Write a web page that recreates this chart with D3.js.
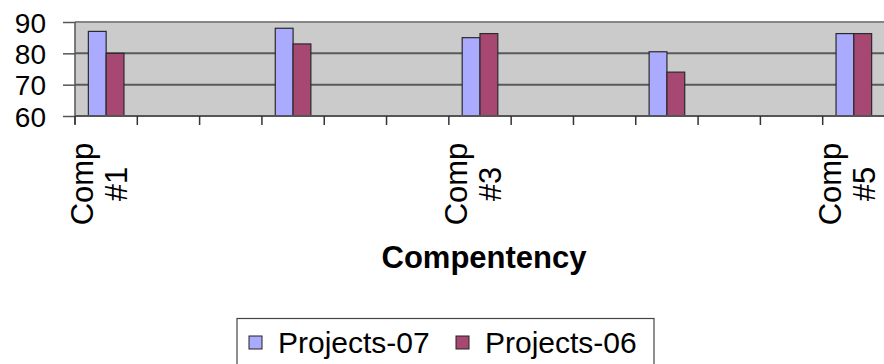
<!DOCTYPE html>
<html>
<head>
<meta charset="utf-8">
<script src="https://cdn.jsdelivr.net/npm/d3@7"></script>
<style>
  html, body { margin: 0; padding: 0; background: #fff; }
  svg { display: block; font-family: Arial, "Liberation Sans", sans-serif; }
</style>
</head>
<body>
<svg id="chart" width="884" height="364"></svg>
<script>
// Category slots on the axis (empty slots keep the spacing between competencies)
const categories = ["Comp #1", "", "", "Comp #2", "", "", "Comp #3", "", "", "Comp #4", "", "", "Comp #5"];
const seriesNames = ["Projects-07", "Projects-06"];
const projects07 = [87, null, null, 88, null, null, 85, null, null, 80.5, null, null, 86.3];
const projects06 = [80, null, null, 83, null, null, 86.3, null, null, 74, null, null, 86.3];
const yTicks = [60, 70, 80, 90];
const labelInterval = 2;          // every second category slot gets a label
const axisTitle = "Compentency";

const colors = { "Projects-07": "#aaaaff", "Projects-06": "#a74873" };
const seriesValues = { "Projects-07": projects07, "Projects-06": projects06 };

const svg = d3.select("#chart");
const plot = { left: 75, right: 885, top: 22, bottom: 116 };

const x0 = d3.scaleBand()
  .domain(d3.range(categories.length))
  .range([plot.left, plot.right])
  .padding(0);

const x1 = d3.scaleBand()
  .domain(seriesNames)
  .range([0, x0.bandwidth()])
  .paddingInner(0)
  .paddingOuter(0.75);

const y = d3.scaleLinear().domain([60, 90]).range([plot.bottom, plot.top]);

// Plot background
svg.append("rect")
  .attr("x", plot.left).attr("y", plot.top)
  .attr("width", plot.right - plot.left).attr("height", plot.bottom - plot.top)
  .attr("fill", "#cbcbcb");

// Horizontal gridlines
svg.append("g")
  .selectAll("line")
  .data(yTicks.filter(v => v > 60))
  .join("line")
  .attr("x1", plot.left).attr("x2", plot.right)
  .attr("y1", d => y(d)).attr("y2", d => y(d))
  .attr("stroke", d => d === 90 ? "#858585" : "#5a5a5a")
  .attr("stroke-width", 2);

// Bars
const rows = categories.map((c, i) => ({ i, c }));
const groups = svg.append("g")
  .selectAll("g")
  .data(rows)
  .join("g")
  .attr("transform", d => `translate(${x0(d.i)},0)`);

groups.selectAll("rect")
  .data(d => seriesNames
    .map(s => ({ s, v: seriesValues[s][d.i] }))
    .filter(e => e.v != null))
  .join("rect")
  .attr("x", e => x1(e.s))
  .attr("width", x1.bandwidth())
  .attr("y", e => y(e.v))
  .attr("height", e => y(60) - y(e.v))
  .attr("fill", e => colors[e.s])
  .attr("stroke", "#2a2a2a")
  .attr("stroke-width", 1.2);

// Y axis
const yAxis = d3.axisLeft(y)
  .tickValues(yTicks)
  .tickSize(12)
  .tickPadding(17)
  .tickFormat(d3.format("d"));

const yg = svg.append("g")
  .attr("transform", `translate(${plot.left},0)`)
  .call(yAxis);
yg.select(".domain").remove();
yg.selectAll(".tick line").attr("stroke", "#555").attr("stroke-width", 1.5);
yg.selectAll(".tick text")
  .attr("fill", "#000")
  .attr("font-size", 28)
  .attr("font-family", "Arial, 'Liberation Sans', sans-serif")
  .attr("dy", "0.36em");

// Vertical axis line (extends a little below the category axis)
svg.append("line")
  .attr("x1", plot.left).attr("x2", plot.left)
  .attr("y1", plot.top).attr("y2", plot.bottom + 8)
  .attr("stroke", "#555").attr("stroke-width", 1.5);

// Category axis line
svg.append("line")
  .attr("x1", plot.left).attr("x2", plot.right)
  .attr("y1", plot.bottom).attr("y2", plot.bottom)
  .attr("stroke", "#555").attr("stroke-width", 2);

// Category tick marks at slot boundaries
const boundaries = d3.range(categories.length + 1).map(i =>
  i < categories.length ? x0(i) : x0(categories.length - 1) + x0.bandwidth());
svg.append("g")
  .selectAll("line")
  .data(boundaries)
  .join("line")
  .attr("x1", d => d).attr("x2", d => d)
  .attr("y1", plot.bottom).attr("y2", plot.bottom + 9)
  .attr("stroke", "#333").attr("stroke-width", 1.5);

// Category labels, rotated, wrapped onto two lines
const labelled = rows.filter(d => d.i % labelInterval === 0 && d.c !== "");
const lg = svg.append("g")
  .selectAll("g")
  .data(labelled)
  .join("g");
lg.each(function (d) {
  const cx = x0(d.i) + x0.bandwidth() / 2;
  const parts = d.c.split(" ");
  const offsets = [-13, 21];
  parts.forEach((p, k) => {
    d3.select(this).append("text")
      .attr("transform", `translate(${cx + offsets[k]},184) rotate(-90)`)
      .attr("text-anchor", "middle")
      .attr("font-size", 31)
      .attr("fill", "#000")
      .text(p);
  });
});

// Axis title
svg.append("text")
  .attr("x", 484).attr("y", 268)
  .attr("text-anchor", "middle")
  .attr("font-size", 31)
  .attr("font-weight", "bold")
  .attr("fill", "#000")
  .text(axisTitle);

// Legend
const legend = svg.append("g");
legend.append("rect")
  .attr("x", 237).attr("y", 318.5)
  .attr("width", 417).attr("height", 60)
  .attr("fill", "#fff")
  .attr("stroke", "#444").attr("stroke-width", 1.2);

const legendX = [249, 456];
seriesNames.forEach((s, k) => {
  legend.append("rect")
    .attr("x", legendX[k]).attr("y", 336)
    .attr("width", 13).attr("height", 13)
    .attr("fill", colors[s])
    .attr("stroke", "#222").attr("stroke-width", 1);
  legend.append("text")
    .attr("x", legendX[k] + 29).attr("y", 353)
    .attr("font-size", 30)
    .attr("fill", "#000")
    .text(s);
});
</script>
</body>
</html>
